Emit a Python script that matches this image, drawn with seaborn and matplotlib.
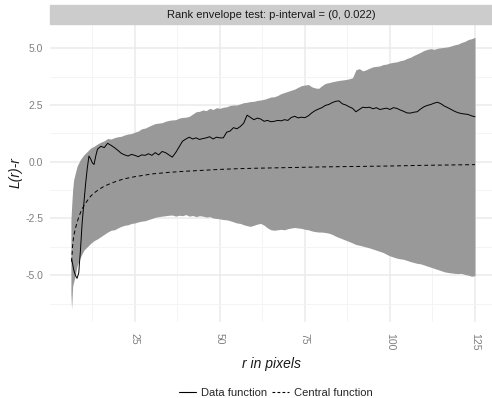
import matplotlib
matplotlib.use("Agg")
import matplotlib.pyplot as plt
from matplotlib.patches import Rectangle
from matplotlib.lines import Line2D
from matplotlib.ticker import MultipleLocator
import seaborn as sns
import pandas as pd

# ---------------- data ----------------
r_env = [6.2, 6.4, 6.7, 7.0, 7.5, 8.0, 8.5, 9.0, 9.5] + list(range(10, 126))
env_hi = [-2.6, -2.0, -1.25, -0.8, -0.5, -0.2, -0.05, 0.1, 0.2,
          0.3, 0.45, 0.6, 0.68, 0.78, 0.86, 0.92, 1.02, 1.0, 1.06,
          1.1, 1.12, 1.18, 1.22, 1.24, 1.3, 1.35, 1.45, 1.48, 1.55,
          1.62, 1.68, 1.7, 1.72, 1.78, 1.82, 1.84, 1.85, 1.92, 1.95,
          1.96, 2.0, 2.1, 2.2, 2.22, 2.28, 2.25, 2.35, 2.3, 2.38,
          2.35, 2.4, 2.42, 2.48, 2.5, 2.5, 2.55, 2.6, 2.62, 2.65,
          2.66, 2.7, 2.72, 2.75, 2.8, 2.85, 2.86, 2.92, 3.0, 3.05,
          3.1, 3.15, 3.2, 3.28, 3.35, 3.38, 3.4, 3.3, 3.25, 3.23,
          3.35, 3.45, 3.48, 3.52, 3.55, 3.58, 3.6, 3.62, 3.65, 3.7,
          4.05, 4.1, 4.0, 4.05, 4.12, 4.18, 4.2, 4.22, 4.28, 4.3,
          4.35, 4.38, 4.4, 4.45, 4.48, 4.55, 4.6, 4.68, 4.75, 4.82,
          4.9, 4.95, 4.98, 4.95, 5.0, 5.02, 5.04, 5.06, 5.1, 5.15,
          5.18, 5.25, 5.3, 5.38, 5.42, 5.48]
env_lo = [-5.8, -6.5, -5.5, -5.3, -5.0, -4.6, -4.4, -4.2, -4.05,
          -3.9, -3.75, -3.6, -3.48, -3.4, -3.3, -3.2, -3.1, -3.02, -3.0,
          -2.92, -2.85, -2.8, -2.78, -2.72, -2.7, -2.65, -2.62, -2.6, -2.55,
          -2.5, -2.45, -2.42, -2.4, -2.38, -2.36, -2.35, -2.4, -2.36, -2.38,
          -2.33, -2.4, -2.37, -2.42, -2.38, -2.4, -2.44, -2.42, -2.48, -2.5,
          -2.52, -2.55, -2.56, -2.6, -2.65, -2.7, -2.72, -2.78, -2.82, -2.85,
          -2.8, -2.75, -2.72, -2.8, -2.92, -3.0, -3.02, -3.0, -2.98, -3.0,
          -2.95, -2.92, -2.9, -2.92, -2.94, -2.98, -3.0, -3.05, -3.08, -3.1,
          -3.1, -3.12, -3.15, -3.2, -3.28, -3.34, -3.4, -3.46, -3.52, -3.58,
          -3.65, -3.68, -3.72, -3.76, -3.8, -3.85, -3.9, -3.95, -4.0, -4.08,
          -4.15, -4.2, -4.25, -4.28, -4.3, -4.35, -4.4, -4.44, -4.48, -4.5,
          -4.55, -4.6, -4.65, -4.7, -4.75, -4.8, -4.85, -4.88, -4.9, -4.92,
          -4.93, -4.92, -4.97, -5.0, -5.05, -5.02]

r_data = [6.4, 6.7, 7.0, 7.5, 8.0, 8.5, 9.0, 9.5, 10.0, 10.5, 11.0, 11.5,
          12.0, 12.5, 13.0, 13.5] + list(range(14, 126))
data_fn = [-4.3, -4.5, -4.75, -5.0, -5.14, -4.9, -3.9, -2.7, -1.85, -1.0, -0.3, 0.25,
           0.12, -0.05, -0.12, 0.25,
           0.55, 0.68, 0.62, 0.81, 0.72, 0.62, 0.5, 0.37, 0.3, 0.25,
           0.32, 0.28, 0.22, 0.3, 0.28, 0.35, 0.28, 0.4, 0.3, 0.45,
           0.4, 0.3, 0.2, 0.4, 0.65, 0.9, 1.0, 1.08, 1.0, 1.05,
           0.98, 1.02, 1.05, 1.1, 1.0, 1.08, 1.05, 1.05, 1.3, 1.35,
           1.5, 1.45, 1.55, 1.7, 2.05, 1.95, 1.85, 1.92, 1.88, 1.78,
           1.82, 1.76, 1.78, 1.82, 1.8, 1.85, 1.82, 1.95, 2.0, 1.93,
           1.96, 1.94, 2.02, 2.15, 2.25, 2.32, 2.38, 2.48, 2.52, 2.6,
           2.66, 2.68, 2.55, 2.5, 2.42, 2.35, 2.2, 2.3, 2.4, 2.38,
           2.4, 2.33, 2.38, 2.3, 2.33, 2.36, 2.3, 2.38, 2.35, 2.28,
           2.22, 2.15, 2.14, 2.18, 2.2, 2.32, 2.42, 2.48, 2.52, 2.58,
           2.62, 2.55, 2.45, 2.38, 2.3, 2.22, 2.16, 2.12, 2.1, 2.08,
           2.02, 1.98]

r_central = [6.4, 6.7, 7.0, 7.5, 8.0, 8.5, 9.0, 9.5, 10, 11, 12, 13, 14, 15, 16,
             18, 20, 22, 25, 28, 30, 35, 40, 45, 50, 55, 60, 70, 80, 90,
             100, 110, 125]
central_fn = [-4.4, -3.7, -3.3, -2.95, -2.68, -2.45, -2.25, -2.08, -1.95, -1.72, -1.52,
              -1.38, -1.27, -1.17, -1.08, -0.95, -0.84, -0.75, -0.66, -0.59, -0.54,
              -0.47, -0.42, -0.38, -0.34, -0.31, -0.29, -0.26, -0.23, -0.21,
              -0.19, -0.16, -0.13]

x_ticks = [25, 50, 75, 100, 125]
y_ticks = [-5.0, -2.5, 0.0, 2.5, 5.0]
title = "Rank envelope test: p-interval = (0, 0.022)"
legend_labels = ["Data function", "Central function"]

# ---------------- plot ----------------
sns.set_theme(style="white")
plt.rcParams['font.family'] = ['Liberation Sans', 'DejaVu Sans']

W, H = 492, 398
fig = plt.figure(figsize=(W / 100, H / 100), dpi=100)
ax = fig.add_axes([50 / W, (H - 321.7) / H, 1 - 50 / W, (321.7 - 23.7) / H])

ax.fill_between(r_env, env_lo, env_hi, color="#999999", lw=0, zorder=2)
df_data = pd.DataFrame({"r": r_data, "v": data_fn})
df_cent = pd.DataFrame({"r": r_central, "v": central_fn})
sns.lineplot(data=df_data, x="r", y="v", color="black", lw=0.7, ax=ax, zorder=3)
sns.lineplot(data=df_cent, x="r", y="v", color="black", lw=0.7, ax=ax, zorder=3,
             linestyle=(0, (4, 3)))

ax.set_xlim(0.05, 130.0)
ax.set_ylim(-7.05, 6.08)
ax.set_xticks(x_ticks)
ax.set_yticks(y_ticks)
ax.set_xticklabels([str(t) for t in x_ticks], rotation=-90)
ax.set_yticklabels([f"{t:.1f}" for t in y_ticks])
ax.xaxis.set_minor_locator(MultipleLocator(12.5))
ax.yaxis.set_minor_locator(MultipleLocator(1.25))
ax.grid(which="major", color="#ebebeb", lw=1.1, zorder=0)
ax.grid(which="minor", color="#f3f3f3", lw=0.6, zorder=0)
ax.set_axisbelow(True)
for s in ax.spines.values():
    s.set_visible(False)
ax.tick_params(axis="both", which="both", length=0, labelsize=7.5,
               labelcolor="#7f7f7f")
ax.tick_params(axis="x", pad=8)
ax.tick_params(axis="y", pad=5)
ax.set_xlabel("r in pixels", fontsize=10, style="italic", color="#1a1a1a",
              labelpad=5)
ax.set_ylabel("L(r)-r", fontsize=10, style="italic", color="#1a1a1a",
              labelpad=2)

# strip
fig.patches.append(Rectangle((50 / W, (H - 24) / H), 1 - 50 / W, 19 / H,
                             transform=fig.transFigure, color="#cccccc",
                             zorder=0))
fig.text((50 + 492) / 2 / W, (H - 14.5) / H, title, ha="center", va="center",
         fontsize=8, color="#1a1a1a")

handles = [Line2D([], [], color="black", lw=0.8),
           Line2D([], [], color="black", lw=0.8, linestyle=(0, (2.5, 2)))]
fig.legend(handles, legend_labels, loc="center", bbox_to_anchor=(276 / W, (H - 393) / H),
           ncol=2, frameon=False, fontsize=8, handlelength=1.5,
           columnspacing=0.45, handletextpad=0.45)

fig.savefig("out.png", dpi=100)
